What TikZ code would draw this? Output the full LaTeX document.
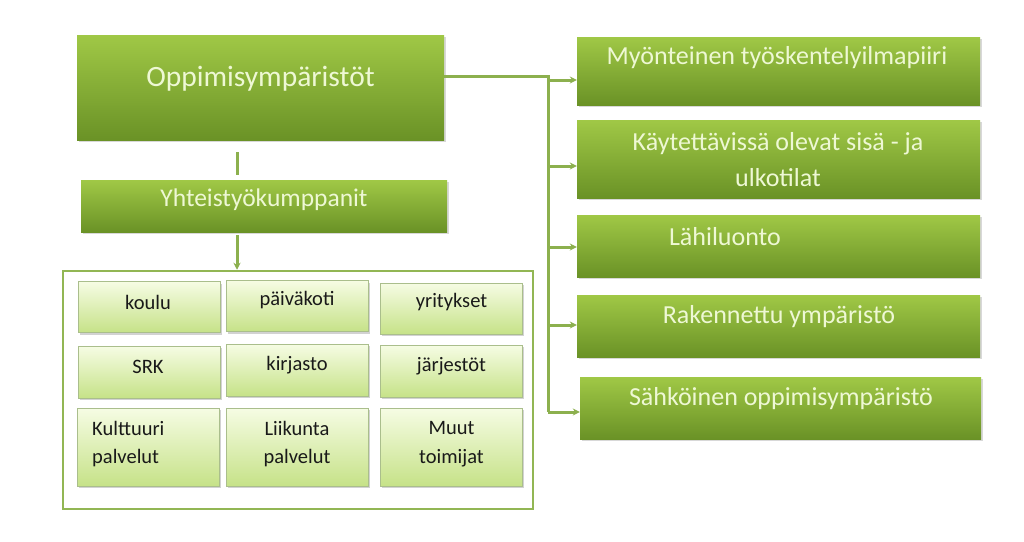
\documentclass[tikz,border=0pt]{standalone}
\usepackage{fontspec}
\setmainfont{Carlito}
\usetikzlibrary{shadows,arrows.meta}
\definecolor{gtop}{RGB}{160,200,70}
\definecolor{gbot}{RGB}{106,146,38}
\definecolor{ctop}{RGB}{246,252,228}
\definecolor{cbot}{RGB}{198,226,136}
\definecolor{conn}{RGB}{140,176,78}
\definecolor{frame}{RGB}{146,182,84}
\definecolor{wtext}{RGB}{238,248,212}
\definecolor{cborder}{RGB}{170,190,140}
\begin{document}
\begin{tikzpicture}[x=1pt,y=-1pt,
  gbox/.style={rectangle,inner sep=0pt,top color=gtop,bottom color=gbot,draw=none,
     drop shadow={opacity=0.3,shadow xshift=1.5pt,shadow yshift=-2pt}},
  cell/.style={rectangle,inner sep=0pt,top color=ctop,bottom color=cbot,draw=cborder,line width=0.6pt,
     minimum width=142pt,
     drop shadow={opacity=0.35,shadow xshift=1.5pt,shadow yshift=-2pt}},
  wt/.style={text=wtext,inner sep=0pt,anchor=center},
  ct/.style={text=black!90,inner sep=0pt,font=\fontsize{20.5}{30}\selectfont},
  cn/.style={draw=conn,line width=3pt},
  arr/.style={cn,-{Stealth[length=7pt,width=7pt]}}]
\useasboundingbox (0,0) rectangle (1024,541);
\fill[white] (0,0) rectangle (1024,541);
% left column
\node[gbox,minimum width=367pt,minimum height=105pt] (main) at (260.5,87.5) {};
\node[wt,font=\fontsize{29.5}{34}\selectfont] (maint) at (260.5,79) {Oppimisympäristöt};
\node[gbox,minimum width=366pt,minimum height=52pt] (yht) at (264,206) {};
\node[wt,font=\fontsize{25.5}{30}\selectfont] (yhtt) at (264,200) {Yhteistyökumppanit};
\coordinate (s1) at (237,152);
\coordinate (s2) at (237,175);
\draw[cn] (s1) -- (s2);
\node[draw=frame,line width=2.5pt,minimum width=470pt,minimum height=238pt,inner sep=0pt] (outer) at (298,390) {};
\coordinate (a1) at (237,235);
\draw[arr] (a1) -- (a1 |- outer.north);
% cells
\node[cell,minimum height=51pt] (c11) at (149,307) {};
\node[cell,minimum height=51pt] (c12) at (297,306) {};
\node[cell,minimum height=51pt] (c13) at (451.5,308.5) {};
\node[cell,minimum height=52pt] (c21) at (149,372) {};
\node[cell,minimum height=52pt] (c22) at (297,370) {};
\node[cell,minimum height=52pt] (c23) at (451.5,371) {};
\node[cell,minimum height=78pt] (c31) at (148,447) {};
\node[cell,minimum height=78pt] (c32) at (297,447) {};
\node[cell,minimum height=78pt] (c33) at (451.5,447) {};
\node[ct] at (148,302) {koulu};
\node[ct] at (297,300) {päiväkoti};
\node[ct] at (451.5,302) {yritykset};
\node[ct] at (148,367) {SRK};
\node[ct] at (297,365) {kirjasto};
\node[ct] at (451.5,366) {järjestöt};
\node[ct,anchor=west] at (92,428) {Kulttuuri};
\node[ct,anchor=west] at (92,458) {palvelut};
\node[ct] at (297,428) {Liikunta};
\node[ct] at (297,458) {palvelut};
\node[ct] at (451.5,428) {Muut};
\node[ct] at (451.5,458) {toimijat};
% right column
\node[gbox,minimum width=403pt,minimum height=68pt] (b1) at (778.5,71) {};
\node[gbox,minimum width=403pt,minimum height=78pt] (b2) at (778.5,159) {};
\node[gbox,minimum width=403pt,minimum height=62pt] (b3) at (778.5,246) {};
\node[gbox,minimum width=403pt,minimum height=62pt] (b4) at (778.5,326) {};
\node[gbox,minimum width=401pt,minimum height=62pt] (b5) at (780.5,408) {};
\begin{scope}[every node/.style={wt,font=\fontsize{26}{34}\selectfont}]
\node at (777,58) {Myönteinen työskentelyilmapiiri};
\node at (778,144) {Käytettävissä olevat sisä - ja};
\node at (778,178) {ulkotilat};
\node at (725,237) {Lähiluonto};
\node at (779,317) {Rakennettu ympäristö};
\node at (781,399) {Sähköinen oppimisympäristö};
\end{scope}
% connectors
\coordinate (m0) at ([yshift=11.5pt]main.east);
\coordinate (j0) at (548,76);
\coordinate (j1) at (548,80);
\coordinate (j2) at (548,166);
\coordinate (j3) at (548,247);
\coordinate (j4) at (548,325);
\coordinate (j5) at (548,412);
\draw[cn] (m0) -- (j0) -- (j5);
\draw[arr] (j1) -- (j1 -| b1.west);
\draw[arr] (j2) -- (j2 -| b2.west);
\draw[arr] (j3) -- (j3 -| b3.west);
\draw[arr] (j4) -- (j4 -| b4.west);
\draw[arr] (j5) -- (j5 -| b5.west);
\end{tikzpicture}
\end{document}
